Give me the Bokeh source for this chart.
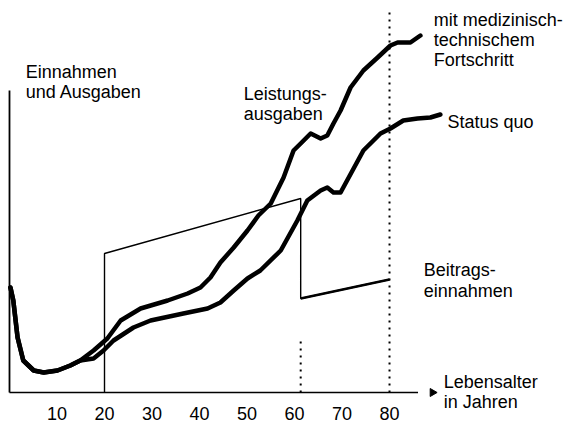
from bokeh.plotting import figure
from bokeh.models import Range1d, Label
from bokeh.core.properties import value
from bokeh.embed import file_html
from bokeh.resources import INLINE
import math

# ---- data (age in years, value in relative units) ----
fortschritt_age = [0.2, 0.8, 1.7, 2.9, 5.1, 7.2, 10.1, 12.8, 14.9, 17.7, 20.6, 23.4, 27.6,
                   33.3, 37.5, 40.2, 42.3, 44.4, 47.2, 50.1, 52.4, 55.0, 57.7, 59.8, 61.3,
                   63.4, 65.5, 66.9, 68.2, 69.7, 71.8, 74.5, 77.5, 80.2, 81.7, 84.4, 86.5]
fortschritt_val = [105, 92, 55, 32, 22, 20, 22, 27, 32, 42, 54, 72, 84,
                   92, 99, 105, 115, 130, 145, 162, 177, 189, 215, 242, 249,
                   259, 254, 257, 269, 282, 305, 322, 335, 347, 350, 350, 357]

statusquo_age = [0.2, 0.8, 1.7, 2.9, 5.1, 7.2, 10.1, 12.8, 14.9, 17.7, 19.8, 21.9, 26.1,
                 29.7, 36.6, 41.7, 44.4, 47.2, 50.1, 52.8, 57.1, 60.6, 62.7, 65.5, 66.9,
                 68.2, 69.7, 74.5, 78.1, 80.2, 82.9, 85.9, 88.6, 90.7]
statusquo_val = [105, 92, 55, 32, 22, 20, 22, 27, 32, 34, 42, 52, 65,
                 72, 79, 84, 90, 102, 114, 122, 142, 172, 192, 202, 205,
                 200, 200, 242, 259, 264, 272, 274, 275, 278]

beitrag_age = [20, 20, 61.3, 61.3, 80]
beitrag_val = [0, 139, 194, 94, 113]

tick_ages = [10, 20, 30, 40, 50, 60, 70, 80]
tick_labels = ["10", "20", "30", "40", "50", "60", "70", "80"]

retire_age = 61.3
end_age = 80
axis_end_age = 86
y_axis_top = 302

FONT = "Liberation Sans"
TXT_SHIFT = 7

p = figure(width=569, height=424,
           x_range=Range1d(-1.8947, 117.89), y_range=Range1d(-32, 392),
           x_axis_location=None, y_axis_location=None,
           output_backend="svg", toolbar_location=None, min_border=0)
p.grid.visible = False
p.outline_line_color = None
p.background_fill_color = "white"
p.border_fill_color = "white"

# axes (drawn as lines in data space)
p.line([0, axis_end_age], [0, 0], line_color="black", line_width=1.6)
p.line([0, 0], [0, y_axis_top], line_color="black", line_width=1.8)
p.scatter([89.05], [0], marker="triangle", size=8, angle=-math.pi / 2,
          fill_color="black", line_color="black")

# dotted verticals
p.line([end_age, end_age], [0, 384], line_color="black", line_width=2, line_dash="2 5")
p.line([retire_age, retire_age], [0, 54], line_color="black", line_width=2, line_dash="2 5")

# contribution income
p.line(beitrag_age, beitrag_val, line_color="black", line_width=1.4)
p.line(beitrag_age[3:], beitrag_val[3:], line_color="black", line_width=2.4)

# expenditure curves
p.line(statusquo_age, statusquo_val, line_color="black", line_width=4.5, line_join="round", line_cap="round")
p.line(fortschritt_age, fortschritt_val, line_color="black", line_width=4.5, line_join="round", line_cap="round")

# tick labels
p.text(x=tick_ages, y=[-28 + TXT_SHIFT] * len(tick_ages), text=tick_labels,
       text_font=value(FONT), text_font_size="18px", text_color="black",
       text_align="center", text_baseline="alphabetic")

def lab(x, y, t):
    p.add_layout(Label(x=x, y=y + TXT_SHIFT, text=t, text_font=FONT, text_font_size="18px",
                       text_color="black", text_baseline="alphabetic", text_align="left"))

lab(3.4, 314, "Einnahmen")
lab(3.4, 294, "und Ausgaben")
lab(49.3, 292, "Leistungs-")
lab(49.3, 272, "ausgaben")
lab(89.3, 366, "mit medizinisch-")
lab(89.3, 346, "technischem")
lab(89.3, 326, "Fortschritt")
lab(92.2, 264, "Status quo")
lab(87.2, 116, "Beitrags-")
lab(87.2, 95, "einnahmen")
lab(91.4, 4, "Lebensalter")
lab(91.4, -16, "in Jahren")

open("out.html", "w").write(file_html(p, INLINE))
